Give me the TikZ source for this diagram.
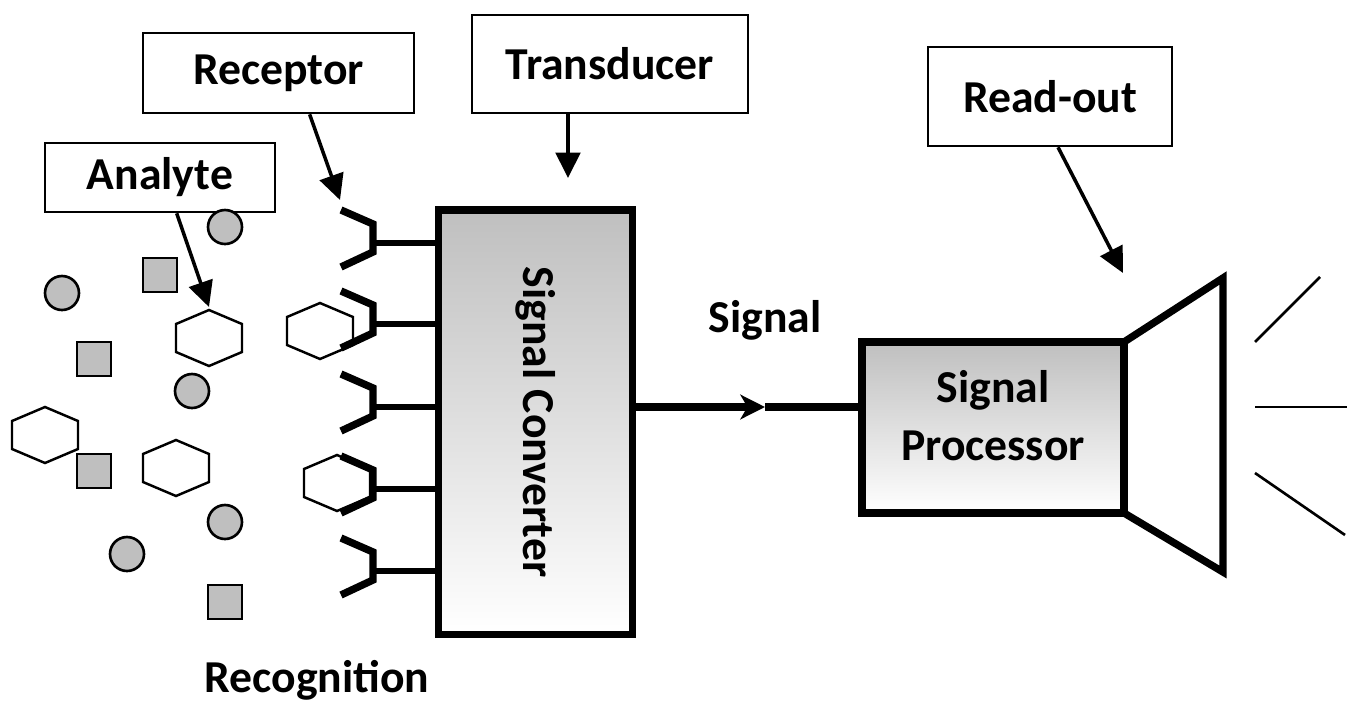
\documentclass[tikz,border=0pt]{standalone}
\usepackage{fontspec}
\setmainfont{Carlito}
\usetikzlibrary{arrows.meta}

\tikzset{
  lbl/.style={font=\bfseries\fontsize{26}{33}\selectfont},
  labelbox/.style={draw, line width=1.5pt, lbl, inner sep=0pt},
  pointer/.style={line width=2pt, -{Triangle[length=14.5pt,width=14pt]}},
  molecule/.style={fill=black!25, draw=black, line width=1.5pt},
  arm/.style={line width=4.2pt},
  stem/.style={line width=3pt},
  convbox/.style={draw, line width=4.5pt, top color=black!25, bottom color=white, inner sep=0pt, outer sep=0pt},
  wave/.style={line width=1.5pt},
  hexa/.pic={\draw[line width=1.4pt] (0,-28) -- (33,-14) -- (33,14) -- (0,28) -- (-33,14) -- (-33,-14) -- cycle;}
}

\begin{document}
\begin{tikzpicture}[x=0.02cm, y=-0.02cm]
  \useasboundingbox (0,0) rectangle (1347,704);

  \node[labelbox, minimum width=5.42cm, minimum height=1.6cm] (receptor) at (278.5,73) {Receptor};
  \node[labelbox, minimum width=5.52cm, minimum height=1.96cm] (transducer) at (610,64) {Transducer};
  \node[labelbox, minimum width=4.6cm, minimum height=1.38cm] (analyte) at (160,177.5) {Analyte};
  \node[labelbox, minimum width=4.88cm, minimum height=1.98cm] (readout) at (1050,96.5) {Read-out};

  \foreach \p in {(225,227),(62,293),(192,391),(225,522),(127,554)}
  {
    \filldraw[molecule] \p circle (17);
  }
  \foreach \p in {(160,275),(94,359),(94,471),(225,602)}
  {
    \filldraw[molecule] \p ++(-17,-17) rectangle ++(34,34);
  }
  \foreach \p in {(209,338),(45,435),(176,468),(320,331),(337,483)}
  {
    \pic at \p {hexa};
  }

  \node[convbox, minimum width=3.88cm, minimum height=8.5cm] (conv) at (535.5,422) {};
  \node[lbl, rotate=-90] (convtext) at (conv.center) {Signal Converter};

  \foreach \y in {243,324,407,489,571}
  {
    \draw[arm] (341,\y-33) -- (373,\y-19) -- (373,\y+9) -- (341,\y+24);
    \draw[stem] (373,\y) -- (conv.west |- 0,\y);
  }

  \node[convbox, minimum width=5.24cm, minimum height=3.42cm] (proc) at (993,427.5) {};
  \node[lbl, align=center] (proctext) at (993,416) {Signal\\Processor};
  \node[lbl] (siglabel) at (765,320) {Signal};
  \node[lbl] (recog) at (317,680) {Recognition};

  \coordinate (sigtip) at (765,407);
  \draw[line width=4.3pt, -{Stealth[length=14pt,width=14pt,inset=4pt]}] (sigtip -| conv.east) -- (sigtip);
  \draw[line width=4.5pt] (sigtip) -- (sigtip -| proc.west);

  \coordinate (conetop) at (1223,278);
  \coordinate (conebot) at (1223,572);
  \draw[line width=4.2pt] (proc.north east) -- (conetop) -- (conebot) -- (proc.south east);
  \draw[wave] (1255,342) -- (1320,277);
  \draw[wave] (1255,407) -- (1347,407);
  \draw[wave] (1255,473) -- (1345,535);

  \coordinate (rtip) at (340,200);
  \coordinate (atip) at (209,307);
  \coordinate (ttip) at (568,178);
  \coordinate (otip) at (1123,273);
  \draw[pointer] (receptor.-53) -- (rtip);
  \draw[pointer] (analyte.-65) -- (atip);
  \draw[pointer] (ttip |- transducer.south) -- (ttip);
  \draw[pointer] (readout.-81) -- (otip);
\end{tikzpicture}
\end{document}
